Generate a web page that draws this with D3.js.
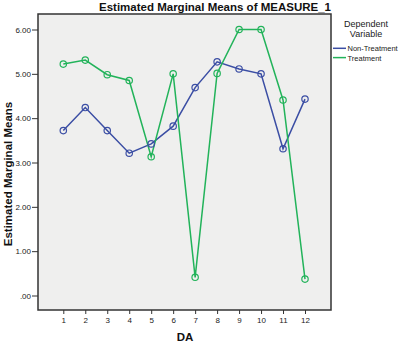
<!DOCTYPE html>
<html><head><meta charset="utf-8">
<script src="https://cdn.jsdelivr.net/npm/d3@7"></script>
<style>body{margin:0;background:#fff;}svg{display:block;font-family:"Liberation Sans",Arial,sans-serif;}</style>
</head><body>
<svg id="c" width="400" height="342"></svg>
<script>
const categories = [1,2,3,4,5,6,7,8,9,10,11,12];
const nonTreatment = [3.72,4.24,3.72,3.21,3.42,3.82,4.69,5.27,5.11,5.00,3.31,4.43];
const treatment = [5.22,5.31,4.98,4.85,3.13,5.00,0.41,5.01,6.00,6.00,4.41,0.37];
const yTicks = [0,1,2,3,4,5,6];
const seriesNames = ["Non-Treatment","Treatment"];
const colors = ["#3b4ea4","#22b35a"];

const svg = d3.select("#c");
const frame = {l:38, t:14, r:331, b:310};
const x = d3.scaleLinear().domain([1,12]).range([63.3,305]);
const y = d3.scaleLinear().domain([0,6]).range([295.5,29.5]);

svg.append("rect").attr("x",frame.l).attr("y",frame.t).attr("width",frame.r-frame.l).attr("height",frame.b-frame.t)
  .attr("fill","#efefee");

const line = d3.line().x((d,i)=>x(categories[i])).y(d=>y(d));
[nonTreatment, treatment].forEach((s,k)=>{
  svg.append("path").datum(s).attr("d",line).attr("fill","none").attr("stroke",colors[k]).attr("stroke-width",1.5);
});
[nonTreatment, treatment].forEach((s,k)=>{
  svg.selectAll(null).data(s).enter().append("circle")
    .attr("cx",(d,i)=>x(categories[i])).attr("cy",d=>y(d)).attr("r",3.2)
    .attr("fill","none").attr("stroke",colors[k]).attr("stroke-width",1.2);
});

svg.append("rect").attr("x",frame.l).attr("y",frame.t).attr("width",frame.r-frame.l).attr("height",frame.b-frame.t)
  .attr("fill","none").attr("stroke","#333").attr("stroke-width",1.5);

const yAxis = d3.axisLeft(y).tickValues(yTicks).tickFormat(d=>d===0?".00":d3.format(".2f")(d)).tickSize(6).tickSizeOuter(0);
const gy = svg.append("g").attr("transform",`translate(${frame.l},0)`).call(yAxis);
gy.select(".domain").remove();
gy.selectAll("line").attr("stroke","#333");
gy.selectAll("text").attr("font-size",8).attr("fill","#222").attr("x",-7);

const xAxis = d3.axisBottom(x).tickValues(categories).tickFormat(d3.format("d")).tickSize(4).tickSizeOuter(0);
const gx = svg.append("g").attr("transform",`translate(0,${frame.b})`).call(xAxis);
gx.select(".domain").remove();
gx.selectAll("line").attr("stroke","#333");
gx.selectAll("text").attr("font-size",8).attr("fill","#222").attr("y",7);

svg.append("text").attr("x",215).attr("y",11).attr("text-anchor","middle").attr("font-weight","bold").attr("font-size",11.5).attr("fill","#111")
  .text("Estimated Marginal Means of MEASURE_1");
svg.append("text").attr("transform","translate(12,174) rotate(-90)").attr("text-anchor","middle").attr("font-weight","bold").attr("font-size",11.5).attr("fill","#111")
  .text("Estimated Marginal Means");
svg.append("text").attr("x",185).attr("y",341).attr("text-anchor","middle").attr("font-weight","bold").attr("font-size",11.5).attr("fill","#111")
  .text("DA");

svg.append("text").attr("x",366).attr("y",27).attr("text-anchor","middle").attr("font-size",9).attr("fill","#222").text("Dependent");
svg.append("text").attr("x",366).attr("y",36.5).attr("text-anchor","middle").attr("font-size",9).attr("fill","#222").text("Variable");
seriesNames.forEach((n,k)=>{
  const yy = 48.3 + k*9.3;
  svg.append("line").attr("x1",333).attr("x2",346).attr("y1",yy).attr("y2",yy).attr("stroke",colors[k]).attr("stroke-width",1.5);
  svg.append("text").attr("x",347.5).attr("y",yy+3).attr("font-size",7.5).attr("fill","#222").text(n);
});
</script>
</body></html>
